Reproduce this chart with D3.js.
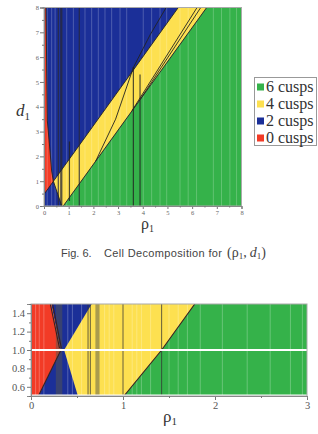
<!DOCTYPE html>
<html><head><meta charset="utf-8">
<script src="https://cdn.jsdelivr.net/npm/d3@7"></script>
<style>body{margin:0;background:#fff}svg{display:block}</style>
</head><body>
<svg id="c" width="318" height="434"></svg>
<script>
// ---------- data ----------
const legendLabels = ["6 cusps", "4 cusps", "2 cusps", "0 cusps"];
const legendColors = ["#35b24a", "#fde050", "#1b2f98", "#f23b26"];

// Top panel: (rho1, d1), rho1 0..8, d1 0..8
const topTicks = [0, 1, 2, 3, 4, 5, 6, 7, 8];
const topMinorTicks = [0.5, 1.5, 2.5, 3.5, 4.5, 5.5, 6.5, 7.5];
const topGreen = [[0.78, 0], [6.59, 8], [8, 8], [8, 0]];
const topYellow = [[0.38, 1.0], [5.44, 8], [6.59, 8], [0.78, 0], [0.72, 0]];
const topRed = [[0, 8], [0.08, 8], [0.135, 3.43], [0.22, 2.5], [0.31, 1.41], [0.38, 1.0], [0, 0.47]];
const topStripes = [0.13, 0.31, 0.45, 0.92, 1.19, 1.66, 1.93, 2.2, 2.47, 2.74, 3.08, 3.35, 4.02, 4.36, 4.7, 4.97, 5.51, 5.84, 6.18, 6.86, 7.19, 7.53, 7.8];
const topDarkVert = [0.58, 0.68, 0.72, 1.43];
const topPartialVert = [[1.03, 0.2, 2.6], [3.62, 0, 5.6], [3.89, 0, 5.3]];
const topLines = [
  [[0, 0.47], [5.44, 8]],
  [[0.78, 0], [6.59, 8]],
  [[0.72, 0], [0.38, 1.0], [0.31, 1.41], [0.22, 2.5], [0.135, 3.43], [0.08, 8]],
  [[2.09, 1.8], [2.9, 3.5], [3.62, 5.58], [4.3, 6.9], [4.95, 8]],
  [[3.9, 4.3], [6.35, 8]],
  [[3.57, 3.85], [6.2, 8]]
];

// Bottom panel: rho1 0..3, value 0.5..1.5
const botXTicks = [0, 1, 2, 3];
const botXMinor = [0.5, 1.5, 2.5];
const botYTicks = [0.6, 0.8, 1.0, 1.2, 1.4];
const botYMinor = [0.5, 0.7, 0.9, 1.1, 1.3, 1.5];
const botYellowAll = [[0, 0.5], [0, 1.5], [3, 1.5], [3, 0.5]];
const botBlueUp = [[0.22, 1.5], [0.66, 1.5], [0.36, 1.0], [0.32, 1.0]];
const botBlueLow = [[0.32, 1.0], [0.36, 1.0], [0.51, 0.5], [0.08, 0.5]];
const botRed = [[0, 0.5], [0, 1.5], [0.22, 1.5], [0.32, 1.0], [0.08, 0.5]];
const botGreen = [[1.01, 0.5], [1.42, 1.0], [1.78, 1.5], [3, 1.5], [3, 0.5]];
const botStripes = [0.05, 0.09, 0.14, 0.4, 0.45, 0.55, 0.8, 0.85, 0.9, 1.1, 1.15, 1.2, 1.3, 1.5, 1.6, 1.7, 1.84, 2.08, 2.35, 2.6, 2.82, 2.95];
const botGreyBands = [[0.27, 0.34], [0.70, 0.745]];
const botDarkVert = [0.62, 0.645, 1.0, 1.42];
const botLines = [
  [[0.21, 1.5], [0.31, 1.02]],
  [[0.235, 1.5], [0.33, 1.02]],
  [[0.32, 0.99], [0.08, 0.5]],
  [[1.01, 0.5], [1.42, 1.0], [1.78, 1.5]]
];
const botWhiteH = [1.0, 0.505];

// ---------- drawing ----------
const svg = d3.select("#c");
const serif = "'Liberation Serif','DejaVu Serif',serif";
const sans = "'Liberation Sans',Arial,sans-serif";

function panel(opts) {
  const {x, y, id} = opts;
  const g = svg.append("g");
  const [x0, x1] = x.range(), [y0, y1] = y.range();
  g.append("clipPath").attr("id", id).append("rect")
    .attr("x", x0).attr("y", y1).attr("width", x1 - x0).attr("height", y0 - y1);
  const p = g.append("g").attr("clip-path", `url(#${id})`);
  const line = d3.line().x(d => x(d[0])).y(d => y(d[1]));
  return {g, p, line};
}

// Top panel
const xT = d3.scaleLinear().domain([0, 8]).range([44, 241.5]);
const yT = d3.scaleLinear().domain([0, 8]).range([206, 7.5]);
{
  const {g, p, line} = panel({x: xT, y: yT, id: "clipT"});
  p.append("rect").attr("x", xT(0)).attr("y", yT(8)).attr("width", xT(8) - xT(0)).attr("height", yT(0) - yT(8)).attr("fill", legendColors[2]);
  p.append("path").attr("d", line(topGreen) + "Z").attr("fill", legendColors[0]);
  p.append("path").attr("d", line(topYellow) + "Z").attr("fill", legendColors[1]);
  p.append("path").attr("d", line(topRed) + "Z").attr("fill", legendColors[3]);
  p.selectAll(".st").data(topStripes).join("line")
    .attr("x1", d => xT(d)).attr("x2", d => xT(d)).attr("y1", yT(0)).attr("y2", yT(8))
    .attr("stroke", "#fff").attr("stroke-opacity", 0.22).attr("stroke-width", 1);
  p.selectAll(".dv").data(topDarkVert).join("line")
    .attr("x1", d => xT(d)).attr("x2", d => xT(d)).attr("y1", yT(0)).attr("y2", yT(8))
    .attr("stroke", "#2a2a3a").attr("stroke-opacity", 0.75).attr("stroke-width", 1.3);
  p.selectAll(".pv").data(topPartialVert).join("line")
    .attr("x1", d => xT(d[0])).attr("x2", d => xT(d[0])).attr("y1", d => yT(d[1])).attr("y2", d => yT(d[2]))
    .attr("stroke", "#222").attr("stroke-opacity", 0.8).attr("stroke-width", 1.2);
  p.selectAll(".bl").data(topLines).join("path")
    .attr("d", d => line(d)).attr("fill", "none").attr("stroke", "#222").attr("stroke-width", 0.9);
  g.append("rect").attr("x", xT(0)).attr("y", yT(8)).attr("width", xT(8) - xT(0)).attr("height", yT(0) - yT(8))
    .attr("fill", "none").attr("stroke", "#aaa").attr("stroke-width", 1);

  g.append("g").attr("transform", `translate(0,${yT(0)})`)
    .call(d3.axisBottom(xT).tickValues(topTicks).tickFormat(d3.format("d")).tickSize(3).tickPadding(1));
  g.append("g").attr("transform", `translate(0,${yT(0)})`)
    .call(d3.axisBottom(xT).tickValues(topMinorTicks).tickFormat("").tickSize(1.5));
  g.append("g").attr("transform", `translate(${xT(0)},0)`)
    .call(d3.axisLeft(yT).tickValues(topTicks).tickFormat(d3.format("d")).tickSize(4).tickPadding(1));
  g.append("g").attr("transform", `translate(${xT(0)},0)`)
    .call(d3.axisLeft(yT).tickValues(topMinorTicks).tickFormat("").tickSize(2));
  g.selectAll(".domain").attr("stroke", "#888");
  g.selectAll(".tick line").attr("stroke", "#777");
  g.selectAll(".tick text").attr("font-family", serif).attr("font-size", 6.5).attr("fill", "#666");

  const dl = svg.append("text").attr("x", 16).attr("y", 116).attr("font-family", serif).attr("font-size", 17).attr("fill", "#333");
  dl.append("tspan").attr("font-style", "italic").text("d");
  dl.append("tspan").attr("font-size", 11).attr("dy", 4).text("1");
  const rl = svg.append("text").attr("x", 141).attr("y", 229).attr("font-family", serif).attr("font-size", 16).attr("fill", "#333");
  rl.append("tspan").text("ρ");
  rl.append("tspan").attr("font-size", 10).attr("dy", 3).text("1");
}

// Legend
{
  const lg = svg.append("g");
  lg.append("rect").attr("x", 254.5).attr("y", 77.5).attr("width", 62).attr("height", 68)
    .attr("fill", "#fff").attr("stroke", "#999").attr("stroke-width", 1);
  const it = lg.selectAll(".li").data(legendLabels).join("g")
    .attr("transform", (d, i) => `translate(257,${87 + i * 17})`);
  it.append("rect").attr("x", 0).attr("y", -3.5).attr("width", 7).attr("height", 7)
    .attr("fill", (d, i) => legendColors[i]);
  it.append("text").attr("x", 9).attr("y", 5).attr("font-family", serif).attr("font-size", 16).attr("fill", "#333").text(d => d);
}

// Caption
{
  const c = svg.append("text").attr("y", 257).attr("fill", "#444");
  c.append("tspan").attr("x", 61).attr("font-family", sans).attr("font-size", 11).text("Fig. 6.");
  c.append("tspan").attr("x", 104).attr("font-family", sans).attr("font-size", 11)
    .attr("textLength", 118).attr("lengthAdjust", "spacing").text("Cell Decomposition for");
  c.append("tspan").attr("x", 227).attr("font-family", serif).attr("font-size", 14).text("(ρ");
  c.append("tspan").attr("font-family", serif).attr("font-size", 9).attr("dy", 2).text("1");
  c.append("tspan").attr("font-family", serif).attr("font-size", 14).attr("dy", -2).text(",");
  c.append("tspan").attr("font-family", serif).attr("font-size", 14).attr("font-style", "italic").attr("dx", 3).text("d");
  c.append("tspan").attr("font-family", serif).attr("font-size", 9).attr("dy", 2).text("1");
  c.append("tspan").attr("font-family", serif).attr("font-size", 14).attr("dy", -2).text(")");
}

// Bottom panel
const xB = d3.scaleLinear().domain([0, 3]).range([31, 307]);
const yB = d3.scaleLinear().domain([0.5, 1.5]).range([396, 304]);
{
  const {g, p, line} = panel({x: xB, y: yB, id: "clipB"});
  p.append("path").attr("d", line(botYellowAll) + "Z").attr("fill", legendColors[1]);
  p.append("path").attr("d", line(botBlueUp) + "Z").attr("fill", legendColors[2]);
  p.append("path").attr("d", line(botBlueLow) + "Z").attr("fill", legendColors[2]);
  p.append("path").attr("d", line(botRed) + "Z").attr("fill", legendColors[3]);
  p.append("path").attr("d", line(botGreen) + "Z").attr("fill", legendColors[0]);
  p.selectAll(".st").data(botStripes).join("line")
    .attr("x1", d => xB(d)).attr("x2", d => xB(d)).attr("y1", yB(0.5)).attr("y2", yB(1.5))
    .attr("stroke", "#fff").attr("stroke-opacity", 0.25).attr("stroke-width", 1);
  p.selectAll(".gb").data(botGreyBands).join("rect")
    .attr("x", d => xB(d[0])).attr("width", d => xB(d[1]) - xB(d[0])).attr("y", yB(1.5)).attr("height", yB(0.5) - yB(1.5))
    .attr("fill", "#55554a").attr("fill-opacity", 0.5);
  p.selectAll(".dv").data(botDarkVert).join("line")
    .attr("x1", d => xB(d)).attr("x2", d => xB(d)).attr("y1", yB(0.5)).attr("y2", yB(1.5))
    .attr("stroke", "#333").attr("stroke-opacity", 0.75).attr("stroke-width", 1);
  p.selectAll(".bl").data(botLines).join("path")
    .attr("d", d => line(d)).attr("fill", "none").attr("stroke", "#3a2020").attr("stroke-width", 1.1);
  p.selectAll(".wh").data(botWhiteH).join("line")
    .attr("x1", xB(0)).attr("x2", xB(3)).attr("y1", d => yB(d)).attr("y2", d => yB(d))
    .attr("stroke", "#fff").attr("stroke-width", 2.2);
  g.append("rect").attr("x", xB(0)).attr("y", yB(1.5)).attr("width", xB(3) - xB(0)).attr("height", yB(0.5) - yB(1.5))
    .attr("fill", "none").attr("stroke", "#aaa").attr("stroke-width", 1);

  g.append("g").attr("transform", `translate(0,${yB(0.5)})`)
    .call(d3.axisBottom(xB).tickValues(botXTicks).tickFormat(d3.format("d")).tickSize(4).tickPadding(2));
  g.append("g").attr("transform", `translate(0,${yB(0.5)})`)
    .call(d3.axisBottom(xB).tickValues(botXMinor).tickFormat("").tickSize(2));
  g.append("g").attr("transform", `translate(${xB(0)},0)`)
    .call(d3.axisLeft(yB).tickValues(botYTicks).tickFormat(d3.format(".1f")).tickSize(4).tickPadding(2));
  g.append("g").attr("transform", `translate(${xB(0)},0)`)
    .call(d3.axisLeft(yB).tickValues(botYMinor).tickFormat("").tickSize(2));
  g.selectAll(".domain").attr("stroke", "#888");
  g.selectAll(".tick line").attr("stroke", "#777");
  g.selectAll(".tick text").attr("font-family", serif).attr("font-size", 10.5).attr("fill", "#555");

  const rl = svg.append("text").attr("x", 163).attr("y", 422).attr("font-family", serif).attr("font-size", 17).attr("fill", "#333");
  rl.append("tspan").text("ρ");
  rl.append("tspan").attr("font-size", 11).attr("dy", 3).text("1");
}
</script>
</body></html>
